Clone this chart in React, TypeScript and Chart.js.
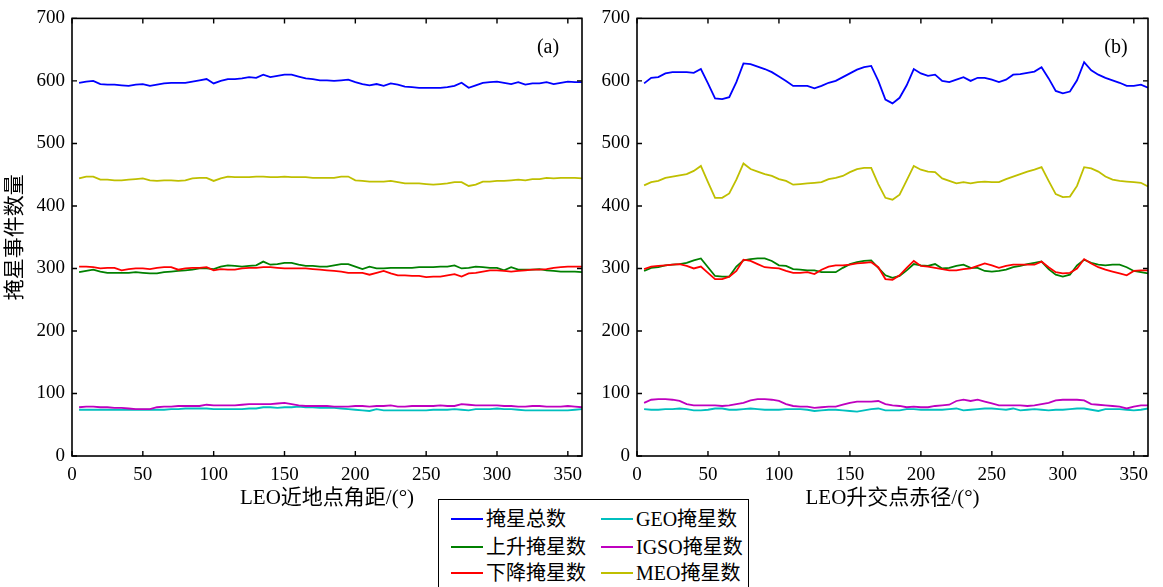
import React, { useEffect, useRef } from "react";
import { Chart, registerables } from "chart.js";

Chart.register(...registerables);

// ---------------- data ----------------
const angles = [
  5, 10, 15, 20, 25, 30, 35, 40, 45, 50, 55, 60, 65, 70, 75, 80, 85, 90, 95, 100,
  105, 110, 115, 120, 125, 130, 135, 140, 145, 150, 155, 160, 165, 170, 175, 180, 185, 190, 195, 200,
  205, 210, 215, 220, 225, 230, 235, 240, 245, 250, 255, 260, 265, 270, 275, 280, 285, 290, 295, 300,
  305, 310, 315, 320, 325, 330, 335, 340, 345, 350, 355, 360,
];
const xTicks = [0, 50, 100, 150, 200, 250, 300, 350];
const yTicks = [0, 100, 200, 300, 400, 500, 600, 700];

// (a) LEO近地点角距
const leftTotal = [
  597, 599, 600, 595, 594, 594, 593, 592, 594, 595, 592, 594, 596, 597, 597, 597, 599, 601, 603, 596,
  600, 603, 603, 604, 606, 605, 610, 606, 608, 610, 610, 607, 604, 603, 601, 601, 600, 601, 602, 598,
  595, 593, 595, 592, 596, 594, 591, 590, 589, 589, 589, 589, 590, 592, 597, 589, 593, 597, 598, 599,
  597, 595, 598, 594, 596, 596, 598, 595, 597, 599, 598, 598,
];
const leftUp = [
  294, 296, 298, 295, 293, 293, 293, 293, 294, 293, 292, 292, 294, 295, 296, 297, 298, 300, 300, 299,
  303, 305, 304, 303, 304, 305, 311, 306, 307, 309, 309, 306, 304, 304, 303, 303, 305, 307, 307, 303,
  299, 303, 300, 300, 301, 301, 301, 301, 302, 302, 302, 303, 303, 305, 300, 301, 303, 302, 301, 301,
  297, 302, 298, 298, 298, 299, 297, 296, 295, 295, 295, 294,
];
const leftDown = [
  303, 303, 302, 300, 301, 301, 297, 299, 300, 300, 299, 301, 302, 302, 298, 300, 301, 301, 302, 297,
  299, 298, 298, 300, 301, 301, 302, 302, 301, 300, 300, 300, 300, 299, 298, 297, 296, 295, 293, 293,
  293, 290, 293, 296, 292, 289, 289, 288, 288, 286, 287, 287, 289, 291, 287, 292, 293, 295, 297, 297,
  296, 295, 296, 297, 298, 298, 299, 301, 302, 303, 303, 303,
];
const leftGeo = [
  74, 74, 74, 74, 74, 74, 74, 74, 74, 74, 74, 74, 74, 75, 75, 76, 76, 76, 76, 75,
  75, 75, 75, 75, 76, 76, 78, 78, 77, 78, 78, 79, 78, 78, 77, 77, 77, 76, 75, 74,
  73, 72, 75, 73, 73, 73, 73, 73, 73, 73, 74, 74, 74, 75, 74, 73, 75, 75, 75, 76,
  75, 75, 74, 73, 73, 73, 73, 73, 73, 73, 74, 75,
];
const leftIgso = [
  78, 79, 79, 78, 78, 77, 77, 76, 75, 75, 75, 78, 79, 79, 80, 80, 80, 80, 82, 81,
  81, 81, 81, 82, 83, 83, 83, 83, 84, 85, 83, 81, 80, 80, 80, 80, 79, 79, 79, 80,
  80, 79, 80, 80, 81, 79, 79, 80, 80, 80, 80, 81, 80, 80, 83, 82, 81, 81, 81, 81,
  80, 80, 79, 79, 80, 80, 79, 79, 79, 80, 79, 78,
];
const leftMeo = [
  444, 447, 447, 442, 442, 441, 441, 442, 443, 444, 441, 440, 441, 441, 440, 441, 444, 445, 445, 440,
  444, 447, 446, 446, 446, 447, 447, 446, 446, 447, 446, 446, 446, 445, 445, 445, 445, 447, 447, 441,
  440, 439, 439, 439, 440, 438, 436, 436, 436, 435, 434, 435, 436, 438, 438, 432, 434, 439, 439, 440,
  440, 441, 442, 441, 443, 443, 445, 444, 445, 445, 445, 444,
];

// (b) LEO升交点赤径
const rightTotal = [
  596, 605, 606, 612, 614, 614, 614, 613, 619, 596, 572, 571, 574, 598, 628, 627, 623, 619, 614, 607,
  600, 592, 592, 592, 588, 592, 597, 600, 606, 612, 618, 622, 624, 600, 570, 564, 573, 593, 619, 612,
  608, 610, 600, 598, 602, 606, 600, 605, 605, 602, 598, 602, 610, 611, 613, 615, 622, 604, 584, 580,
  583, 601, 630, 617, 610, 605, 601, 597, 592, 592, 594, 589,
];
const rightUp = [
  296, 301, 302, 305, 306, 307, 309, 313, 316, 302, 288, 287, 287, 303, 313, 315, 316, 316, 312, 305,
  304, 299, 298, 297, 297, 294, 294, 294, 301, 307, 310, 312, 313, 301, 289, 285, 288, 297, 307, 305,
  304, 307, 300, 301, 304, 306, 301, 301, 296, 295, 296, 298, 302, 304, 307, 309, 311, 299, 290, 287,
  290, 305, 314, 309, 306, 305, 306, 306, 302, 296, 294, 292,
];
const rightDown = [
  299, 303, 304, 305, 306, 307, 304, 300, 303, 293, 283, 283, 287, 296, 314, 312, 307, 302, 301, 300,
  296, 293, 293, 294, 291, 298, 303, 305, 305, 306, 308, 309, 310, 302, 283, 282, 289, 301, 312, 304,
  303, 301, 299, 297, 297, 299, 300, 304, 308, 305, 301, 304, 306, 306, 306, 306, 311, 302, 294, 292,
  293, 300, 315, 308, 302, 298, 295, 292, 289, 296, 297, 297,
];
const rightGeo = [
  75, 74, 74, 75, 75, 76, 75, 73, 73, 74, 76, 76, 74, 74, 75, 76, 75, 74, 74, 74,
  75, 75, 75, 74, 72, 73, 74, 74, 73, 72, 71, 73, 75, 76, 73, 73, 73, 75, 75, 74,
  74, 74, 74, 75, 76, 73, 74, 75, 76, 76, 75, 74, 76, 73, 74, 75, 74, 73, 74, 74,
  75, 76, 76, 74, 72, 75, 75, 75, 74, 73, 74, 76,
];
const rightIgso = [
  85, 90, 91, 91, 90, 88, 83, 81, 81, 81, 81, 80, 81, 83, 85, 89, 91, 91, 90, 88,
  83, 80, 79, 79, 77, 78, 79, 79, 82, 85, 87, 87, 87, 88, 83, 81, 80, 78, 79, 78,
  78, 80, 81, 82, 88, 90, 88, 90, 87, 84, 81, 81, 81, 81, 80, 81, 83, 85, 89, 90,
  90, 90, 89, 83, 82, 81, 80, 79, 76, 79, 81, 81,
];
const rightMeo = [
  433, 438, 440, 445, 447, 449, 451, 456, 464, 438, 413, 413, 420, 442, 468, 459, 455, 451, 448, 443,
  440, 434, 435, 436, 437, 438, 443, 445, 448, 454, 459, 461, 461, 435, 413, 410, 418, 441, 464, 458,
  455, 454, 444, 440, 436, 438, 436, 438, 439, 438, 438, 443, 447, 451, 455, 458, 462, 440, 419, 414,
  415, 432, 462, 460, 455, 447, 442, 440, 439, 438, 437, 431,
];

const seriesNames = ["掩星总数", "上升掩星数", "下降掩星数", "GEO掩星数", "IGSO掩星数", "MEO掩星数"];
const seriesColors = ["#0000ff", "#008000", "#ff0000", "#00bfbf", "#bf00bf", "#bfbf00"];
const drawOrder = [0, 2, 1, 4, 3, 5];

const yTitle = "掩星事件数量";
const xTitleLeft = "LEO近地点角距/(°)";
const xTitleRight = "LEO升交点赤径/(°)";

// ---------------- styling ----------------
const FONT = "'Liberation Serif', 'Times New Roman', 'Noto Sans CJK SC', serif";
const H = 530;
const PLOT_TOP = 16;
const PLOT_BOTTOM = 456;

function makeFramePlugin(label: string, labelDx: number) {
  return {
    id: "frameTicks",
    afterDraw(chart: any) {
      const { ctx, chartArea: a, scales } = chart;
      const xs = scales.x;
      const ys = scales.y;
      ctx.save();
      ctx.strokeStyle = "#000";
      ctx.lineWidth = 1.6;
      ctx.strokeRect(a.left, a.top, a.right - a.left, a.bottom - a.top);
      ctx.lineWidth = 1.4;
      ctx.beginPath();
      const tl = 5;
      for (const v of xTicks) {
        const px = xs.getPixelForValue(v);
        ctx.moveTo(px, a.bottom);
        ctx.lineTo(px, a.bottom - tl);
        ctx.moveTo(px, a.top);
        ctx.lineTo(px, a.top + tl);
      }
      for (const v of yTicks) {
        const py = ys.getPixelForValue(v);
        ctx.moveTo(a.left, py);
        ctx.lineTo(a.left + tl, py);
        ctx.moveTo(a.right, py);
        ctx.lineTo(a.right - tl, py);
      }
      ctx.stroke();
      ctx.fillStyle = "#000";
      ctx.font = `20px ${FONT}`;
      ctx.textAlign = "center";
      ctx.textBaseline = "middle";
      ctx.fillText(label, a.right - labelDx, a.top + 29);
      ctx.restore();
    },
  };
}

type PanelProps = {
  left: number;
  width: number;
  yAxisWidth: number;
  padRight: number;
  series: number[][];
  xTitle: string;
  showYTitle: boolean;
  label: string;
  labelDx: number;
};

function Panel(p: PanelProps) {
  const ref = useRef<HTMLCanvasElement>(null);
  useEffect(() => {
    const canvas = ref.current!;
    const chart = new Chart(canvas, {
      type: "line",
      data: {
        datasets: drawOrder.map((i) => ({
          label: seriesNames[i],
          data: angles.map((a, k) => ({ x: a, y: p.series[i][k] })),
          borderColor: seriesColors[i],
          backgroundColor: seriesColors[i],
          borderWidth: 1.8,
          pointRadius: 0,
          fill: false,
          tension: 0,
        })),
      },
      options: {
        responsive: false,
        animation: false,
        devicePixelRatio: 1,
        layout: { padding: { top: PLOT_TOP, right: p.padRight, left: 0, bottom: 0 } },
        plugins: { legend: { display: false }, tooltip: { enabled: false } },
        scales: {
          x: {
            type: "linear",
            min: 0,
            max: 360,
            grid: { display: false, drawTicks: false },
            border: { display: false },
            ticks: {
              color: "#000",
              padding: 8,
              maxRotation: 0,
              font: { family: FONT, size: 19 },
            },
            afterBuildTicks: (s: any) => {
              s.ticks = xTicks.map((v) => ({ value: v }));
            },
            afterFit: (s: any) => {
              s.height = H - PLOT_BOTTOM;
            },
            title: {
              display: true,
              text: p.xTitle,
              color: "#000",
              font: { family: FONT, size: 21 },
              padding: { top: 0, bottom: 19 },
            },
          },
          y: {
            type: "linear",
            min: 0,
            max: 700,
            grid: { display: false, drawTicks: false },
            border: { display: false },
            ticks: {
              color: "#000",
              padding: 7,
              font: { family: FONT, size: 19 },
            },
            afterBuildTicks: (s: any) => {
              s.ticks = yTicks.map((v) => ({ value: v }));
            },
            afterFit: (s: any) => {
              s.width = p.yAxisWidth;
            },
            title: {
              display: p.showYTitle,
              text: yTitle,
              color: "#000",
              font: { family: FONT, size: 21 },
              padding: { top: 3, bottom: 0 },
            },
          },
        },
      },
      plugins: [makeFramePlugin(p.label, p.labelDx)],
    } as any);
    return () => chart.destroy();
  }, []);
  return (
    <canvas
      ref={ref}
      width={p.width}
      height={H}
      style={{ position: "absolute", left: p.left, top: 0, width: p.width, height: H }}
    />
  );
}

const legendOrder = [
  [0, 3],
  [1, 4],
  [2, 5],
];

function Legend() {
  const rowsY = [19, 47, 73];
  const colX = [12, 162];
  return (
    <div
      style={{
        position: "absolute",
        left: 438,
        top: 499,
        width: 311,
        height: 100,
        border: "1.5px solid #000",
        background: "#fff",
        fontFamily: FONT,
        fontSize: 20,
        color: "#000",
        boxSizing: "border-box",
      }}
    >
      {legendOrder.map((row, r) =>
        row.map((si, c) => (
          <React.Fragment key={`${r}-${c}`}>
            <div
              style={{
                position: "absolute",
                left: colX[c],
                top: rowsY[r] - 1,
                width: 32,
                height: 2,
                background: seriesColors[si],
              }}
            />
            <div
              style={{
                position: "absolute",
                left: colX[c] + 35,
                top: rowsY[r] - 13,
                height: 26,
                lineHeight: "26px",
                whiteSpace: "nowrap",
              }}
            >
              {seriesNames[si]}
            </div>
          </React.Fragment>
        ))
      )}
    </div>
  );
}

export default function App() {
  return (
    <div
      style={{
        position: "absolute",
        left: 0,
        top: 0,
        width: 1163,
        height: 587,
        overflow: "hidden",
        background: "#fff",
      }}
    >
      <Panel
        left={0}
        width={595}
        yAxisWidth={72}
        padRight={13}
        series={[leftTotal, leftUp, leftDown, leftGeo, leftIgso, leftMeo]}
        xTitle={xTitleLeft}
        showYTitle={true}
        label="(a)"
        labelDx={34}
      />
      <Panel
        left={590}
        width={573}
        yAxisWidth={47}
        padRight={15}
        series={[rightTotal, rightUp, rightDown, rightGeo, rightIgso, rightMeo]}
        xTitle={xTitleRight}
        showYTitle={false}
        label="(b)"
        labelDx={32}
      />
      <Legend />
    </div>
  );
}
